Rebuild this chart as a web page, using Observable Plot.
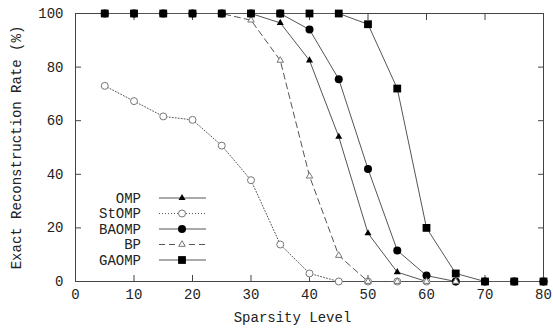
<!DOCTYPE html>
<html><head><meta charset="utf-8">
<script src="https://cdn.jsdelivr.net/npm/d3@7"></script>
<script src="https://cdn.jsdelivr.net/npm/@observablehq/plot@0.6"></script>
<style>body{margin:0;background:#fff}</style>
</head><body><div id="chart"></div>
<script>
const sparsity = [5,10,15,20,25,30,35,40,45,50,55,60,65,70,75,80];
const ompRate   = [100,100,100,100,100,100,96.5,82.5,54,18,3.5,0,0,0,0,0];
const stompRate = [73,67.3,61.6,60.3,50.7,37.8,13.8,3,0,0,0,0,0,0,0,0];
const baompRate = [100,100,100,100,100,100,100,94,75.5,42,11.6,2.2,0,0,0,0];
const bpRate    = [100,100,100,100,100,97.5,82.5,39.3,9.7,0,0,0,0,0,0,0];
const gaompRate = [100,100,100,100,100,100,100,100,100,96,72,20,3,0,0,0];
const seriesNames = ["OMP","StOMP","BAOMP","BP","GAOMP"];
const xTicks = [0,10,20,30,40,50,60,70,80];
const yTicks = [0,20,40,60,80,100];
const xTitle = "Sparsity Level";
const yTitle = "Exact Reconstruction Rate (%)";

const styles = {
  OMP:   {dash: null,  symbol: "triangle", fill: "#000", r: 2.6, mStroke: "#000"},
  StOMP: {dash: "1,2", symbol: "circle",   fill: "white", r: 3.5, mStroke: "#777"},
  BAOMP: {dash: null,  symbol: "circle",   fill: "#000", r: 4, mStroke: "#000"},
  BP:    {dash: "6,4", symbol: "triangle", fill: "white", r: 2.4, mStroke: "#777"},
  GAOMP: {dash: null,  symbol: "square",   fill: "#000", r: 4.4, mStroke: "#000"}
};
const valuesBy = {OMP: ompRate, StOMP: stompRate, BAOMP: baompRate, BP: bpRate, GAOMP: gaompRate};
const rows = seriesNames.map(name => sparsity.map((s, i) => ({name, s, v: valuesBy[name][i]})));

const font = "Liberation Mono, DejaVu Sans Mono, monospace";
const marks = [];
rows.forEach(data => {
  const st = styles[data[0].name];
  marks.push(Plot.line(data, {x: "s", y: "v", stroke: "#555", strokeWidth: 1, strokeDasharray: st.dash}));
});
rows.forEach(data => {
  const st = styles[data[0].name];
  marks.push(Plot.dot(data, {x: "s", y: "v", symbol: () => st.symbol, r: st.r,
    fill: st.fill, stroke: st.fill === "white" ? st.mStroke : "none", strokeWidth: 1}));
});

const chart = Plot.plot({
  width: 553, height: 332,
  marginLeft: 75, marginRight: 10, marginTop: 13, marginBottom: 51,
  style: {fontFamily: font, fontSize: "14px", color: "#222", background: "white"},
  x: {domain: [0, 80]},
  y: {domain: [0, 100]},
  symbol: {type: "identity"},
  marks: [
    Plot.frame({stroke: "#444"}),
    Plot.axisX({ticks: xTicks, tickSize: -6, tickPadding: 14, stroke: "#444", fill: "#222", label: null}),
    Plot.axisX({anchor: "top", ticks: xTicks, tickSize: -6, tickFormat: () => "", stroke: "#444", label: null}),
    Plot.axisY({ticks: yTicks, tickSize: -6, tickPadding: 18, stroke: "#444", fill: "#222", label: yTitle, labelAnchor: "center", labelArrow: "none", labelOffset: 64}),
    Plot.axisY({anchor: "right", ticks: yTicks, tickSize: -6, tickFormat: () => "", stroke: "#444", label: null}),
    Plot.text([xTitle], {frameAnchor: "bottom", dy: 40, dx: -17, fill: "#222", fontSize: 14}),
    ...marks
  ]
});
document.getElementById("chart").append(chart);

// legend (inside the frame, lower left)
const svg = d3.select(chart);
const lg = svg.append("g").attr("font-family", font).attr("font-size", 14).attr("fill", "#222");
seriesNames.forEach((name, i) => {
  const st = styles[name];
  const y = 198 + i * 15.5;
  lg.append("text").attr("x", 141).attr("y", y).attr("dy", "0.35em").attr("text-anchor", "end").text(name);
  lg.append("line").attr("x1", 159).attr("x2", 206).attr("y1", y).attr("y2", y)
    .attr("stroke", "#555").attr("stroke-width", 1).attr("stroke-dasharray", st.dash);
  const sym = {triangle: d3.symbolTriangle, circle: d3.symbolCircle, square: d3.symbolSquare}[st.symbol];
  lg.append("path").attr("transform", `translate(182,${y})`)
    .attr("d", d3.symbol(sym, Math.PI * st.r * st.r)())
    .attr("fill", st.fill).attr("stroke", st.fill === "white" ? st.mStroke : "none");
});
</script></body></html>
